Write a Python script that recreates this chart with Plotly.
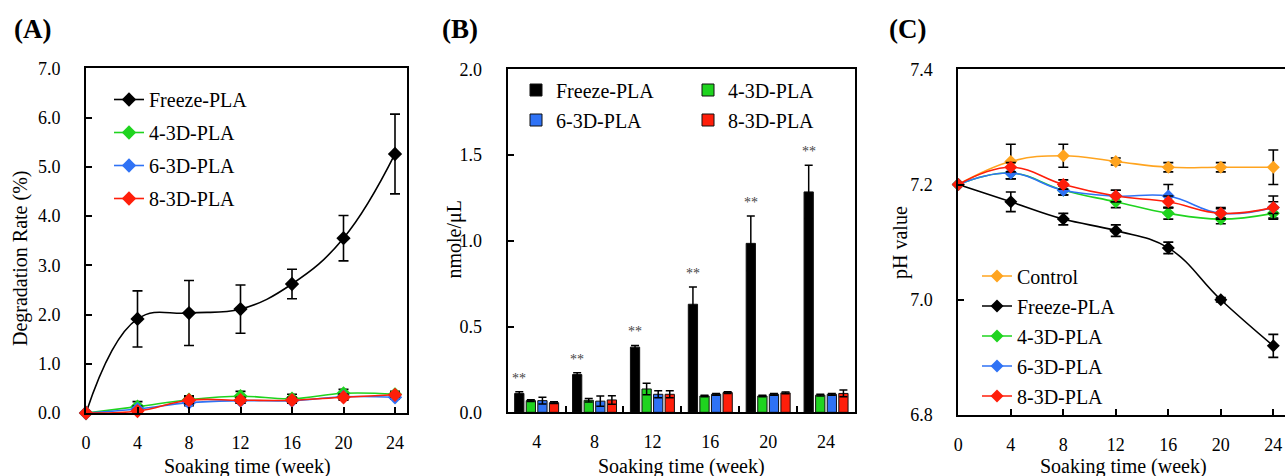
import plotly.graph_objects as go

W, H = 1285, 476
FONT = "Liberation Serif, Times New Roman, serif"

# ---------------- data ----------------
weeks = [0, 4, 8, 12, 16, 20, 24]
week_ticks = [0, 4, 8, 12, 16, 20, 24]

# Panel A: degradation rate (%)
a_freeze = [0.0, 1.91, 2.03, 2.11, 2.62, 3.55, 5.26]
a_freeze_err = [0.0, 0.57, 0.66, 0.49, 0.30, 0.46, 0.81]
a_4 = [0.0, 0.13, 0.27, 0.34, 0.29, 0.40, 0.38]
a_4_err = [0.0, 0.10, 0.08, 0.10, 0.09, 0.08, 0.06]
a_6 = [0.0, 0.08, 0.21, 0.25, 0.25, 0.33, 0.32]
a_6_err = [0.0, 0.06, 0.06, 0.05, 0.05, 0.05, 0.04]
a_8 = [0.0, 0.04, 0.26, 0.26, 0.26, 0.32, 0.37]
a_8_err = [0.0, 0.03, 0.07, 0.06, 0.06, 0.06, 0.04]

# Panel B: nmole/uL
b_weeks = ["4", "8", "12", "16", "20", "24"]
b_freeze = [0.11, 0.22, 0.38, 0.63, 0.985, 1.285]
b_freeze_err = [0.01, 0.01, 0.01, 0.10, 0.16, 0.155]
b_4 = [0.068, 0.07, 0.136, 0.095, 0.095, 0.10]
b_4_err = [0.005, 0.01, 0.033, 0.005, 0.005, 0.005]
b_6 = [0.068, 0.065, 0.105, 0.105, 0.105, 0.105]
b_6_err = [0.02, 0.03, 0.02, 0.005, 0.005, 0.005]
b_8 = [0.056, 0.072, 0.105, 0.115, 0.113, 0.11]
b_8_err = [0.005, 0.025, 0.02, 0.005, 0.005, 0.02]
b_sig = ["**", "**", "**", "**", "**", "**"]

# Panel C: pH value
c_control = [7.20, 7.24, 7.25, 7.24, 7.23, 7.23, 7.23]
c_control_err = [0.0, 0.03, 0.02, 0.006, 0.008, 0.008, 0.03]
c_freeze = [7.20, 7.17, 7.14, 7.12, 7.09, 7.00, 6.92]
c_freeze_err = [0.0, 0.017, 0.01, 0.01, 0.01, 0.004, 0.02]
c_4 = [7.20, 7.22, 7.19, 7.17, 7.15, 7.14, 7.15]
c_4_err = [0.0, 0.01, 0.008, 0.01, 0.01, 0.008, 0.008]
c_6 = [7.20, 7.22, 7.19, 7.18, 7.18, 7.15, 7.16]
c_6_err = [0.0, 0.01, 0.008, 0.01, 0.02, 0.008, 0.01]
c_8 = [7.20, 7.23, 7.20, 7.18, 7.17, 7.15, 7.16]
c_8_err = [0.0, 0.008, 0.008, 0.01, 0.01, 0.01, 0.02]

names = ["Freeze-PLA", "4-3D-PLA", "6-3D-PLA", "8-3D-PLA"]
BLACK, GREEN, BLUE, RED, ORANGE = "#000000", "#1fd41f", "#2f72f5", "#ff1e0a", "#ffa41f"

fig = go.Figure()


def line_trace(x, y, err, name, color, xa, ya, legend, group, msize):
    return go.Scatter(
        x=x, y=y, name=name, mode="lines+markers",
        line=dict(color=color, width=1.6, shape="spline", smoothing=1.2),
        marker=dict(symbol="diamond", size=msize, color=color),
        error_y=dict(type="data", array=err, visible=True, color="black",
                     thickness=1.6, width=5),
        xaxis=xa, yaxis=ya, legend=legend, legendgroup=group,
        cliponaxis=False,
    )


# Panel A
for y, e, n, c in zip([a_freeze, a_4, a_6, a_8], [a_freeze_err, a_4_err, a_6_err, a_8_err],
                      names, [BLACK, GREEN, BLUE, RED]):
    fig.add_trace(line_trace(weeks, y, e, n, c, "x", "y", "legend", "A" + n, 11))

# Panel B
BARGAP, GROUPGAP = 0.2, 0.2
b_series = [(b_freeze, b_freeze_err, names[0], BLACK, "legend2"),
            (b_4, b_4_err, names[1], GREEN, "legend3"),
            (b_6, b_6_err, names[2], BLUE, "legend2"),
            (b_8, b_8_err, names[3], RED, "legend3")]
for y, e, n, c, lg in b_series:
    fig.add_trace(go.Bar(
        x=b_weeks, y=y, name=n, marker=dict(color=c, line=dict(color="#111111", width=1)),
        error_y=dict(type="data", array=e, visible=True, color="black", thickness=1.5, width=4),
        xaxis="x2", yaxis="y2", legend=lg, legendgroup="B" + n,
    ))

# Panel C
for y, e, n, c in zip([c_control, c_freeze, c_4, c_6, c_8],
                      [c_control_err, c_freeze_err, c_4_err, c_6_err, c_8_err],
                      ["Control"] + names, [ORANGE, BLACK, GREEN, BLUE, RED]):
    fig.add_trace(line_trace(weeks, y, e, n, c, "x3", "y3", "legend4", "C" + n, 10))

# ---------------- layout ----------------
def px_x(p):
    return p / W


def px_y(p):
    return 1 - p / H


tickfont = dict(family=FONT, size=18, color="black")
base = dict(showline=True, linecolor="black", linewidth=2, ticks="inside", ticklen=6,
            tickwidth=1.5, tickcolor="black", showgrid=False, zeroline=False,
            tickfont=tickfont, automargin=False)

A_L, A_R, A_T, A_B = 86, 407, 68.3, 413
B_L, B_R, B_T, B_B = 507.7, 855, 69.3, 412.3
C_L, C_T, C_B = 958.3, 69.3, 415
a_ppu = (395 - 86) / 24.0
c_ppu = (1273.3 - 958.3) / 24.0

fig.update_layout(
    width=W, height=H, margin=dict(l=0, r=0, t=0, b=0),
    paper_bgcolor="white", plot_bgcolor="white",
    font=dict(family=FONT, color="black"),
    barmode="group", bargap=BARGAP, bargroupgap=GROUPGAP,
    xaxis=dict(base, domain=[px_x(A_L), px_x(A_R)], range=[0, (A_R - A_L) / a_ppu],
               tickvals=week_ticks, mirror=True, anchor="y", ticklabelstandoff=12),
    yaxis=dict(base, domain=[px_y(A_B), px_y(A_T)], range=[0, 7], dtick=1, tickformat=".1f",
               mirror=True, anchor="x", ticklabelstandoff=20),
    xaxis2=dict(base, domain=[px_x(B_L), px_x(B_R)], type="category", range=[-0.5, 5.5],
                tickson="boundaries", mirror=True, anchor="y2", ticklabelstandoff=12),
    yaxis2=dict(base, domain=[px_y(B_B), px_y(B_T)], range=[0, 2], dtick=0.5, tickformat=".1f",
                mirror=True, anchor="x2", ticklabelstandoff=20),
    xaxis3=dict(base, domain=[px_x(C_L), 1.0], range=[0, (W - C_L) / c_ppu],
                tickvals=week_ticks, mirror=True, anchor="y3", ticklabelstandoff=12),
    yaxis3=dict(base, domain=[px_y(C_B), px_y(C_T)], range=[6.8, 7.4], dtick=0.2,
                tickformat=".1f", anchor="x3", ticklabelstandoff=20),
)

legfont = dict(family=FONT, size=20, color="black")
common_leg = dict(xanchor="left", yanchor="top", bgcolor="rgba(0,0,0,0)", font=legfont,
                  traceorder="grouped", borderwidth=0)
fig.update_layout(
    legend=dict(common_leg, x=px_x(109), y=px_y(80), tracegroupgap=4),
    legend2=dict(common_leg, x=px_x(516), y=px_y(70.5), tracegroupgap=1),
    legend3=dict(common_leg, x=px_x(688), y=px_y(70.5), tracegroupgap=1),
    legend4=dict(common_leg, x=px_x(977), y=px_y(256.5), tracegroupgap=1),
)

ann = []
# panel labels
for lab, cx in [("(A)", 32), ("(B)", 460), ("(C)", 907)]:
    ann.append(dict(text="<b>%s</b>" % lab, x=px_x(cx), y=px_y(29), xref="paper", yref="paper",
                    xanchor="center", yanchor="middle", showarrow=False,
                    font=dict(family=FONT, size=27, color="black")))
# axis titles
title_font = dict(family=FONT, size=20, color="black")
for txt, cx in [("Soaking time (week)", 247.5), ("Soaking time (week)", 681.7),
                ("Soaking time (week)", 1123.3)]:
    ann.append(dict(text=txt, x=px_x(cx), y=px_y(466), xref="paper", yref="paper",
                    xanchor="center", yanchor="middle", showarrow=False, font=title_font))
for txt, cx, cy in [("Degradation Rate (%)", 20, 259), ("nmole/μL", 453.5, 239),
                    ("pH value", 900, 242)]:
    ann.append(dict(text=txt, x=px_x(cx), y=px_y(cy), xref="paper", yref="paper",
                    xanchor="center", yanchor="middle", showarrow=False, textangle=-90,
                    font=title_font))
# significance marks above Freeze-PLA bars
n_cat = len(b_weeks)
cat_px = (B_R - B_L) / n_cat
black_shift = -1.5 * (1 - BARGAP) / 4 * cat_px
for i, (v, e, s) in enumerate(zip(b_freeze, b_freeze_err, b_sig)):
    ann.append(dict(text=s, x=(i + 0.5) / n_cat, y=v + e, xref="x2 domain", yref="y2",
                    xanchor="center", yanchor="bottom", xshift=black_shift, yshift=4,
                    showarrow=False, font=dict(family=FONT, size=14, color="#444444")))
fig.update_layout(annotations=ann)

fig.write_html("out.html",
               config={"displayModeBar": False},
               post_script="document.body.style.margin='0px';"
                           "document.body.style.overflow='hidden';")
